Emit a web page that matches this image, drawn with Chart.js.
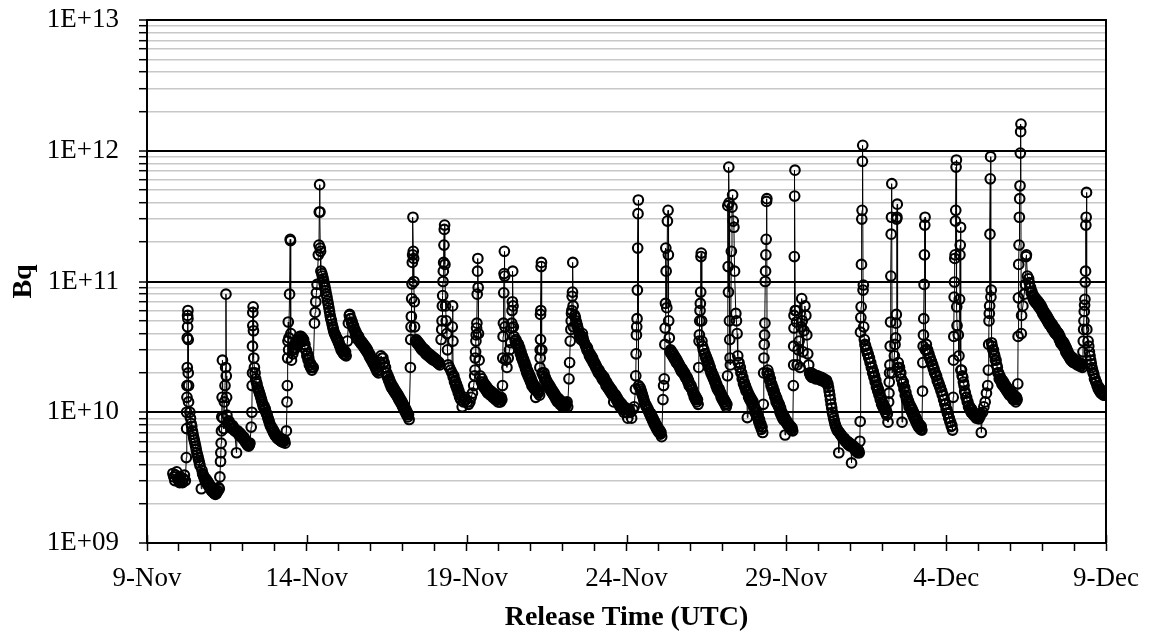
<!DOCTYPE html>
<html>
<head>
<meta charset="utf-8">
<script src="https://cdn.jsdelivr.net/npm/chart.js@4.4.1/dist/chart.umd.min.js"></script>
<style>
  body { margin: 0; background: #fff; }
</style>
</head>
<body>
<canvas id="releaseChart" width="1152" height="639"></canvas>
<script>
// x = days after 9-Nov 00:00 UTC, y = release in Bq
var week1 = [
  [0.81,3.4e9],[0.84,3.2e9],[0.87,3.0e9],[0.90,3.3e9],[0.93,3.5e9],[0.96,3.1e9],[0.99,3.0e9],[1.02,2.9e9],[1.05,3.2e9],[1.08,3.0e9],[1.11,2.9e9],[1.14,3.1e9],[1.17,3.3e9],[1.20,3.0e9],
  [1.23,4.5e9],[1.24,7.5e9],[1.24,1.0e10],[1.25,1.3e10],[1.25,1.6e10],[1.26,2.2e10],[1.26,3.7e10],[1.27,4.5e10],[1.27,5.5e10],[1.28,6.0e10],[1.28,5.2e10],[1.29,3.6e10],[1.29,2.0e10],[1.30,1.6e10],[1.30,1.2e10],
  [1.34,1.0e10],[1.36,9.0e9],[1.38,8.2e9],[1.40,7.8e9],[1.42,7.2e9],[1.44,6.8e9],[1.46,6.4e9],[1.48,6.1e9],[1.50,5.8e9],[1.52,5.5e9],[1.54,5.2e9],[1.56,4.9e9],[1.58,4.7e9],[1.60,4.5e9],[1.62,4.3e9],[1.64,4.1e9],[1.66,3.9e9],[1.70,2.6e9],[1.72,3.6e9],[1.74,3.4e9],[1.76,3.3e9],[1.78,3.2e9],[1.80,3.1e9],[1.82,3.0e9],[1.86,2.9e9],[1.90,2.8e9],[1.94,2.7e9],[1.98,2.6e9],[2.02,2.5e9],[2.06,2.45e9],[2.10,2.4e9],[2.14,2.35e9],[2.18,2.4e9],[2.22,2.5e9],[2.26,2.6e9],
  [2.28,3.2e9],[2.30,4.2e9],[2.31,4.9e9],[2.32,5.8e9],[2.33,7.2e9],[2.34,9.2e9],[2.35,1.3e10],[2.36,2.5e10],[2.38,9.0e9],[2.40,7.5e9],[2.42,1.2e10],[2.44,1.6e10],[2.46,2.2e10],[2.47,8.0e10],[2.48,1.9e10],[2.49,1.3e10],[2.50,9.5e9],
  [2.54,8.5e9],[2.58,8.0e9],[2.62,7.8e9],[2.66,7.5e9],[2.70,7.6e9],[2.74,7.2e9],[2.80,4.9e9],[2.82,7.0e9],[2.86,6.8e9],[2.90,6.6e9],[2.94,6.5e9],[2.98,6.4e9],[3.02,6.2e9],[3.06,6.0e9],[3.10,5.8e9],[3.14,5.6e9],[3.18,5.5e9],[3.22,5.8e9],[3.26,7.7e9],
  [3.28,1.0e10],[3.29,1.6e10],[3.30,2.0e10],[3.30,3.2e10],[3.31,4.6e10],[3.31,5.8e10],[3.32,6.4e10],[3.33,4.2e10],[3.34,2.6e10],
  [3.36,2.2e10],[3.38,2.0e10],[3.40,1.8e10],[3.42,1.7e10],[3.44,1.65e10],[3.46,1.55e10],[3.48,1.5e10],[3.50,1.45e10],[3.52,1.4e10],[3.54,1.35e10],[3.56,1.3e10],[3.58,1.25e10],[3.60,1.2e10],[3.62,1.15e10],[3.64,1.1e10],[3.68,1.05e10],[3.72,1.0e10],[3.74,9.8e9],[3.76,9.5e9],[3.78,9.1e9],[3.80,8.8e9],[3.82,8.5e9],[3.84,8.2e9],[3.86,7.9e9],[3.88,7.7e9],[3.92,7.3e9],[3.96,7.0e9],[4.00,6.7e9],[4.04,6.5e9],[4.08,6.3e9],[4.12,6.2e9],[4.16,6.1e9],[4.20,6.0e9],[4.24,5.9e9],[4.28,6.0e9],[4.32,5.8e9],
  [4.36,7.2e9],[4.38,1.2e10],[4.39,1.6e10],[4.40,2.6e10],[4.41,3.5e10],[4.42,4.9e10],[4.43,3.0e10],[4.44,3.7e10],[4.46,8.0e10],[4.48,2.1e11],[4.49,2.05e11],[4.50,4.0e10],[4.52,2.5e10],
  [4.56,2.8e10],[4.60,3.0e10],[4.64,3.1e10],[4.68,3.3e10],[4.72,3.4e10],[4.76,3.5e10],[4.80,3.6e10],[4.84,3.6e10],[4.88,3.5e10],[4.92,3.3e10],[4.96,3.0e10],[5.00,2.7e10],[5.04,2.5e10],[5.08,2.3e10],[5.12,2.2e10],[5.16,2.1e10],[5.20,2.2e10],
  [5.24,4.8e10],[5.26,5.8e10],[5.28,7.0e10],[5.30,8.2e10],[5.32,9.5e10],[5.36,1.6e11],[5.38,1.9e11],[5.39,3.4e11],[5.40,5.5e11],[5.41,3.4e11],[5.42,1.8e11],[5.43,1.7e11],[5.44,1.2e11],
  [5.47,1.15e11],[5.49,1.1e11],[5.51,1.05e11],[5.53,1.0e11],[5.55,9.5e10],[5.57,9.0e10],[5.59,8.5e10],[5.61,8.0e10],[5.63,7.6e10],[5.65,7.1e10],[5.67,6.7e10],[5.69,6.3e10],[5.71,5.9e10],[5.73,5.5e10],[5.75,5.2e10],[5.77,5.0e10],[5.79,4.7e10],[5.81,4.5e10],[5.83,4.3e10],[5.85,4.1e10],[5.87,4.0e10],[5.89,3.9e10],[5.91,3.8e10],[5.93,3.7e10],[5.95,3.6e10],[5.99,3.4e10],[6.03,3.2e10],[6.07,3.0e10],[6.11,2.9e10],[6.15,2.8e10],[6.19,2.75e10],[6.23,2.7e10],
  [6.27,3.5e10],[6.30,4.8e10],[6.33,5.5e10],[6.36,5.2e10],[6.40,4.8e10],[6.44,4.5e10],[6.48,4.3e10],[6.52,4.0e10],[6.56,3.8e10],[6.60,3.6e10],[6.64,3.5e10],[6.68,3.4e10],[6.72,3.3e10],[6.76,3.2e10],[6.80,3.1e10],[6.84,3.0e10],[6.88,2.9e10],[6.92,2.8e10],[6.96,2.65e10]
];
// upper edge of the thick decay bands, same week
var week1b = [
  [1.84,3.1e9],[1.88,3.0e9],[1.92,2.9e9],[1.96,2.8e9],[2.00,2.7e9],[2.04,2.6e9],[2.08,2.55e9],[2.12,2.5e9],[2.16,2.45e9],[2.20,2.5e9],[2.24,2.65e9],
  [2.56,8.6e9],[2.60,8.2e9],[2.64,7.9e9],[2.68,7.9e9],[2.72,7.6e9],[2.84,7.2e9],[2.88,7.0e9],[2.92,6.9e9],[2.96,6.7e9],[3.00,6.5e9],[3.04,6.4e9],[3.08,6.1e9],[3.12,5.9e9],[3.16,5.8e9],[3.20,5.6e9],
  [3.66,1.12e10],[3.70,1.06e10],[3.90,7.7e9],[3.94,7.4e9],[3.98,7.1e9],[4.02,6.8e9],[4.06,6.6e9],[4.10,6.5e9],[4.14,6.4e9],[4.18,6.3e9],[4.22,6.2e9],[4.26,6.2e9],[4.30,6.1e9],
  [4.58,3.1e10],[4.62,3.3e10],[4.66,3.4e10],[4.70,3.6e10],[4.74,3.7e10],[4.78,3.8e10],[4.82,3.8e10],[4.86,3.7e10],[4.90,3.6e10],[4.94,3.3e10],[4.98,3.0e10],[5.02,2.8e10],[5.06,2.6e10],[5.10,2.4e10],[5.14,2.3e10],[5.18,2.2e10],
  [5.97,3.6e10],[6.01,3.4e10],[6.05,3.2e10],[6.09,3.1e10],[6.13,3.0e10],[6.17,2.95e10],[6.21,2.9e10],
  [6.34,5.6e10],[6.38,5.2e10],[6.42,4.9e10],[6.46,4.6e10],[6.50,4.3e10],[6.54,4.1e10],[6.58,3.9e10],[6.62,3.8e10],[6.66,3.6e10],[6.70,3.5e10],[6.74,3.4e10],[6.78,3.3e10],[6.82,3.2e10],[6.86,3.1e10],[6.90,3.0e10],[6.94,2.85e10],[6.98,2.75e10]
];

var week2 = [
  [7.00,2.55e10],[7.04,2.45e10],[7.08,2.35e10],[7.12,2.25e10],[7.16,2.15e10],[7.20,2.05e10],
  [7.24,2.0e10],[7.28,2.4e10],[7.32,2.7e10],[7.36,2.6e10],[7.40,2.4e10],[7.44,2.2e10],[7.48,2.0e10],[7.52,1.85e10],[7.56,1.75e10],[7.60,1.65e10],[7.64,1.55e10],[7.68,1.5e10],[7.72,1.45e10],[7.76,1.4e10],[7.80,1.35e10],[7.84,1.3e10],[7.88,1.25e10],[7.92,1.2e10],[7.96,1.15e10],[8.00,1.1e10],[8.04,1.05e10],[8.08,1.0e10],[8.12,9.6e9],[8.16,9.2e9],[8.20,8.8e9],
  [8.24,2.2e10],[8.25,3.6e10],[8.26,4.5e10],[8.27,5.4e10],[8.28,7.4e10],[8.29,9.6e10],[8.30,1.4e11],[8.31,1.6e11],[8.32,3.1e11],[8.33,1.7e11],[8.34,1.5e11],[8.35,1.0e11],[8.36,7.0e10],[8.37,4.5e10],
  [8.40,3.5e10],[8.44,3.4e10],[8.48,3.3e10],[8.52,3.2e10],[8.56,3.1e10],[8.60,3.0e10],[8.64,2.95e10],[8.68,2.9e10],[8.72,2.8e10],[8.76,2.75e10],[8.80,2.7e10],[8.84,2.65e10],[8.88,2.6e10],[8.92,2.55e10],[8.96,2.5e10],[9.00,2.5e10],[9.04,2.45e10],[9.08,2.4e10],[9.12,2.35e10],[9.16,2.3e10],
  [9.20,3.6e10],[9.22,4.3e10],[9.23,5.0e10],[9.24,6.5e10],[9.25,7.8e10],[9.26,1.0e11],[9.27,1.2e11],[9.28,1.4e11],[9.29,1.9e11],[9.30,2.5e11],[9.31,2.7e11],[9.32,1.35e11],[9.34,6.5e10],[9.36,5.0e10],[9.38,4.0e10],[9.40,3.0e10],[9.42,2.3e10],
  [9.46,2.2e10],[9.50,2.1e10],[9.54,2.0e10],[9.55,4.5e10],[9.56,6.5e10],[9.57,3.5e10],[9.58,1.85e10],[9.62,1.7e10],[9.66,1.6e10],[9.70,1.5e10],[9.74,1.4e10],[9.78,1.3e10],[9.82,1.25e10],[9.86,1.1e10],[9.90,1.2e10],[9.94,1.3e10],[9.98,1.25e10],
  [10.02,1.2e10],[10.06,1.15e10],[10.10,1.2e10],[10.14,1.3e10],[10.18,1.4e10],[10.22,1.6e10],[10.25,1.9e10],[10.26,2.1e10],[10.27,2.6e10],[10.28,2.9e10],[10.29,3.5e10],[10.30,3.9e10],[10.31,4.4e10],[10.32,4.8e10],[10.33,8.0e10],[10.34,1.2e11],[10.35,1.5e11],[10.36,9.0e10],[10.37,4.0e10],[10.39,2.5e10],[10.42,1.9e10],
  [10.46,1.7e10],[10.50,1.6e10],[10.54,1.55e10],[10.58,1.5e10],[10.62,1.45e10],[10.66,1.4e10],[10.70,1.4e10],[10.74,1.35e10],[10.78,1.35e10],[10.82,1.3e10],[10.86,1.3e10],[10.90,1.25e10],[10.94,1.25e10],[10.98,1.2e10],[11.02,1.2e10],[11.06,1.2e10],[11.10,1.25e10],
  [11.12,1.6e10],[11.13,2.6e10],[11.14,3.8e10],[11.15,4.8e10],[11.16,8.2e10],[11.17,1.15e11],[11.18,1.7e11],[11.19,1.1e11],[11.20,4.5e10],[11.22,2.5e10],[11.26,2.2e10],
  [11.30,2.6e10],[11.34,3.0e10],[11.38,3.4e10],[11.40,4.4e10],[11.41,4.8e10],[11.42,6.0e10],[11.43,7.0e10],[11.44,1.2e11],[11.45,6.5e10],[11.46,4.5e10],[11.48,3.8e10],
  [11.52,3.5e10],[11.56,3.3e10],[11.60,3.2e10],[11.64,3.0e10],[11.68,2.8e10],[11.72,2.6e10],[11.76,2.45e10],[11.80,2.3e10],[11.84,2.15e10],[11.88,2.0e10],[11.92,1.9e10],[11.96,1.8e10],[12.00,1.7e10],[12.04,1.6e10],[12.08,1.55e10],[12.12,1.5e10],[12.16,1.3e10],[12.20,1.45e10],[12.24,1.4e10],[12.28,1.35e10],
  [12.29,2.2e10],[12.30,2.6e10],[12.30,3.0e10],[12.31,3.6e10],[12.31,5.6e10],[12.32,6.0e10],[12.33,1.3e11],[12.34,1.4e11],[12.35,3.0e10],[12.36,2.0e10],
  [12.40,1.9e10],[12.44,1.8e10],[12.48,1.7e10],[12.52,1.6e10],[12.56,1.55e10],[12.60,1.5e10],[12.64,1.45e10],[12.68,1.4e10],[12.72,1.35e10],[12.76,1.3e10],[12.80,1.25e10],[12.84,1.2e10],[12.88,1.2e10],[12.92,1.15e10],[12.96,1.15e10],[13.00,1.1e10],[13.04,1.1e10],[13.08,1.1e10],[13.12,1.15e10],[13.16,1.1e10],
  [13.20,1.8e10],[13.22,2.4e10],[13.24,3.5e10],[13.26,4.3e10],[13.27,5.0e10],[13.28,5.7e10],[13.29,6.0e10],[13.30,7.7e10],[13.31,8.3e10],[13.32,1.4e11],[13.33,6.5e10],[13.34,4.5e10],
  [13.38,5.5e10],[13.42,5.0e10],[13.46,4.6e10],[13.50,4.2e10],[13.54,3.8e10],[13.58,3.6e10],[13.62,4.0e10],[13.66,3.5e10],
  [13.72,3.2e10],[13.76,3.0e10],[13.80,2.9e10],[13.84,2.7e10],[13.88,2.6e10],[13.92,2.5e10],[13.96,2.4e10]
];
var week2b = [
  [7.02,2.6e10],[7.06,2.5e10],[7.10,2.4e10],[7.14,2.3e10],[7.18,2.2e10],[7.22,2.1e10],
  [7.38,2.6e10],[7.42,2.4e10],[7.46,2.2e10],[7.50,2.0e10],[7.54,1.9e10],[7.58,1.8e10],[7.62,1.7e10],[7.66,1.62e10],[7.70,1.56e10],[7.74,1.5e10],[7.78,1.45e10],[7.82,1.4e10],[7.86,1.35e10],[7.90,1.3e10],[7.94,1.25e10],[7.98,1.2e10],[8.02,1.15e10],[8.06,1.1e10],[8.10,1.05e10],[8.14,1.0e10],[8.18,9.6e9],
  [8.42,3.6e10],[8.46,3.5e10],[8.50,3.4e10],[8.54,3.3e10],[8.58,3.2e10],[8.62,3.1e10],[8.66,3.05e10],[8.70,3.0e10],[8.74,2.9e10],[8.78,2.85e10],[8.82,2.8e10],[8.86,2.75e10],[8.90,2.7e10],[8.94,2.65e10],[8.98,2.6e10],[9.02,2.55e10],[9.06,2.5e10],[9.10,2.45e10],[9.14,2.4e10],
  [9.60,1.9e10],[9.64,1.75e10],[9.68,1.65e10],[9.72,1.55e10],[9.76,1.45e10],[9.80,1.35e10],
  [10.48,1.8e10],[10.52,1.7e10],[10.56,1.65e10],[10.60,1.6e10],[10.64,1.55e10],[10.68,1.5e10],[10.72,1.45e10],[10.76,1.45e10],[10.80,1.4e10],[10.84,1.4e10],[10.88,1.35e10],[10.92,1.35e10],[10.96,1.3e10],[11.00,1.3e10],[11.04,1.3e10],[11.08,1.3e10],
  [11.54,3.6e10],[11.58,3.4e10],[11.62,3.3e10],[11.66,3.1e10],[11.70,2.9e10],[11.74,2.7e10],[11.78,2.55e10],[11.82,2.4e10],[11.86,2.25e10],[11.90,2.1e10],[11.94,2.0e10],[11.98,1.9e10],[12.02,1.8e10],[12.06,1.7e10],[12.10,1.62e10],[12.14,1.58e10],[12.18,1.52e10],[12.22,1.48e10],[12.26,1.45e10],
  [12.42,2.0e10],[12.46,1.85e10],[12.50,1.75e10],[12.54,1.68e10],[12.58,1.62e10],[12.62,1.56e10],[12.66,1.5e10],[12.70,1.45e10],[12.74,1.4e10],[12.78,1.35e10],[12.82,1.3e10],[12.86,1.28e10],[12.90,1.25e10],[12.94,1.22e10],[12.98,1.2e10],[13.02,1.18e10],[13.06,1.17e10],[13.10,1.17e10],[13.14,1.2e10],
  [13.40,5.3e10],[13.44,4.8e10],[13.48,4.4e10],[13.52,4.0e10],[13.56,3.9e10],[13.60,3.8e10],[13.64,3.7e10],[13.68,3.4e10],[13.74,3.2e10],[13.78,3.1e10],[13.82,2.9e10],[13.86,2.8e10],[13.90,2.7e10],[13.94,2.6e10],[13.98,2.45e10]
];

var week3 = [
  [14.00,2.3e10],[14.04,2.2e10],[14.08,2.1e10],[14.12,2.0e10],[14.16,1.95e10],[14.20,1.9e10],[14.24,1.8e10],[14.28,1.75e10],[14.32,1.7e10],[14.36,1.6e10],[14.40,1.55e10],[14.44,1.5e10],[14.48,1.45e10],[14.52,1.4e10],[14.56,1.35e10],[14.60,1.2e10],[14.64,1.3e10],[14.68,1.25e10],[14.72,1.2e10],[14.76,1.15e10],[14.80,1.1e10],[14.84,1.1e10],[14.88,1.05e10],[14.92,1.0e10],[14.96,1.05e10],[15.00,1.0e10],[15.04,9.0e9],
  [15.08,1.05e10],[15.12,1.0e10],[15.16,9.0e9],[15.20,1.05e10],[15.24,1.1e10],
  [15.28,1.5e10],[15.29,1.9e10],[15.30,2.8e10],[15.31,3.9e10],[15.32,4.5e10],[15.33,5.2e10],[15.34,8.6e10],[15.35,1.8e11],[15.36,3.3e11],[15.37,4.2e11],[15.38,1.6e10],
  [15.42,1.55e10],[15.44,1.5e10],[15.46,1.45e10],[15.48,1.4e10],[15.50,1.35e10],[15.52,1.3e10],[15.54,1.25e10],[15.56,1.2e10],[15.58,1.15e10],[15.62,1.1e10],[15.66,1.05e10],[15.70,1.0e10],[15.74,9.5e9],[15.78,9.0e9],[15.82,8.6e9],[15.86,8.2e9],[15.90,7.8e9],[15.94,7.5e9],[15.98,7.2e9],[16.02,7.0e9],[16.06,6.8e9],[16.10,6.5e9],
  [16.14,1.25e10],[16.16,1.6e10],[16.18,1.8e10],[16.20,3.3e10],[16.21,4.4e10],[16.22,6.8e10],[16.23,1.8e11],[16.24,1.2e11],[16.26,6.3e10],[16.28,2.9e11],[16.30,3.5e11],[16.31,1.6e11],[16.32,5.0e10],[16.34,3.7e10],[16.36,2.9e10],
  [16.40,2.8e10],[16.44,2.7e10],[16.48,2.6e10],[16.52,2.5e10],[16.56,2.4e10],[16.60,2.35e10],[16.64,2.25e10],[16.68,2.15e10],[16.72,2.05e10],[16.76,2.0e10],[16.80,1.95e10],[16.84,1.85e10],[16.88,1.8e10],[16.92,1.7e10],[16.96,1.6e10],[17.00,1.55e10],[17.04,1.5e10],[17.08,1.4e10],[17.12,1.3e10],[17.16,1.25e10],[17.20,1.2e10],[17.24,1.15e10],
  [17.26,2.2e10],[17.27,3.5e10],[17.28,3.9e10],[17.29,5.0e10],[17.30,6.0e10],[17.31,6.8e10],[17.32,8.3e10],[17.33,1.55e11],[17.34,1.65e11],[17.35,5.0e10],[17.36,3.5e10],
  [17.40,3.0e10],[17.44,2.8e10],[17.48,2.6e10],[17.52,2.45e10],[17.56,2.3e10],[17.60,2.15e10],[17.64,2.0e10],[17.68,1.9e10],[17.72,1.8e10],[17.76,1.7e10],[17.80,1.6e10],[17.84,1.5e10],[17.88,1.45e10],[17.92,1.4e10],[17.96,1.3e10],[18.00,1.25e10],[18.04,1.2e10],[18.08,1.15e10],[18.12,1.1e10],
  [18.16,1.9e10],[18.17,3.8e11],[18.18,1.3e11],[18.19,8.3e10],[18.20,7.5e11],[18.21,4.0e11],[18.22,5.0e10],[18.23,3.6e10],[18.24,2.6e10],[18.25,2.3e10],[18.28,1.7e11],[18.30,3.7e11],[18.32,4.6e11],[18.34,2.9e11],[18.36,2.6e11],[18.38,1.2e11],[18.42,5.7e10],[18.44,5.0e10],[18.46,4.0e10],
  [18.50,2.4e10],[18.54,2.2e10],[18.58,2.0e10],[18.62,1.8e10],[18.66,1.65e10],[18.70,1.55e10],[18.74,1.45e10],[18.78,9.1e9],[18.82,1.3e10],[18.86,1.25e10],[18.90,1.2e10],[18.94,1.15e10],[18.98,1.1e10],[19.02,1.0e10],[19.06,9.5e9],[19.10,9.0e9],[19.14,8.4e9],[19.18,7.9e9],[19.22,7.4e9],[19.26,7.0e9],
  [19.28,1.15e10],[19.29,2.0e10],[19.30,2.6e10],[19.31,3.3e10],[19.32,3.9e10],[19.33,4.8e10],[19.34,1.0e11],[19.35,1.2e11],[19.36,1.6e11],[19.37,2.1e11],[19.38,4.1e11],[19.39,4.3e11],[19.40,2.0e10],
  [19.44,1.9e10],[19.48,1.75e10],[19.52,1.6e10],[19.56,1.5e10],[19.60,1.4e10],[19.64,1.3e10],[19.68,1.2e10],[19.72,1.15e10],[19.76,1.1e10],[19.80,1.0e10],[19.84,9.5e9],[19.88,9.0e9],[19.92,8.7e9],[19.96,6.7e9],[20.00,8.3e9],[20.04,8.0e9],[20.08,7.8e9],[20.12,7.5e9],[20.16,7.3e9],[20.20,7.2e9],
  [20.22,1.6e10],[20.23,2.3e10],[20.23,3.2e10],[20.24,4.4e10],[20.24,5.5e10],[20.25,1.55e11],[20.26,4.5e11],[20.27,7.1e11],[20.28,6.0e10],
  [20.30,6.0e10],[20.32,4.9e10],[20.34,2.3e10],[20.37,3.0e10],[20.40,3.5e10],[20.43,2.2e10],[20.46,4.5e10],[20.48,7.4e10],[20.50,5.0e10],[20.52,2.9e10],[20.55,4.2e10],[20.58,6.5e10],[20.61,5.5e10],[20.64,3.9e10],[20.67,2.8e10],[20.70,2.3e10],[20.73,2.0e10],
  [20.76,1.9e10],[20.80,1.85e10],[20.84,1.9e10],[20.88,1.85e10],[20.92,1.8e10],[20.96,1.85e10]
];
var week3b = [
  [14.02,2.35e10],[14.06,2.25e10],[14.10,2.15e10],[14.14,2.1e10],[14.18,2.0e10],[14.22,1.95e10],[14.26,1.9e10],[14.30,1.85e10],[14.34,1.75e10],[14.38,1.7e10],[14.42,1.62e10],[14.46,1.58e10],[14.50,1.52e10],[14.54,1.48e10],[14.58,1.42e10],[14.62,1.38e10],[14.66,1.35e10],[14.70,1.3e10],[14.74,1.25e10],[14.78,1.2e10],[14.82,1.18e10],[14.86,1.15e10],[14.90,1.1e10],[14.94,1.08e10],[14.98,1.08e10],[15.02,1.05e10],
  [15.60,1.15e10],[15.64,1.1e10],[15.68,1.05e10],[15.72,1.0e10],[15.76,9.8e9],[15.80,9.3e9],[15.84,8.9e9],[15.88,8.5e9],[15.92,8.1e9],[15.96,7.8e9],[16.00,7.5e9],[16.04,7.3e9],[16.08,7.0e9],
  [16.38,3.0e10],[16.42,2.9e10],[16.46,2.8e10],[16.50,2.7e10],[16.54,2.6e10],[16.58,2.5e10],[16.62,2.4e10],[16.66,2.3e10],[16.70,2.2e10],[16.74,2.15e10],[16.78,2.05e10],[16.82,2.0e10],[16.86,1.9e10],[16.90,1.85e10],[16.94,1.75e10],[16.98,1.65e10],[17.02,1.6e10],[17.06,1.5e10],[17.10,1.4e10],[17.14,1.35e10],[17.18,1.3e10],[17.22,1.25e10],
  [17.38,3.2e10],[17.42,3.0e10],[17.46,2.8e10],[17.50,2.65e10],[17.54,2.5e10],[17.58,2.35e10],[17.62,2.2e10],[17.66,2.05e10],[17.70,1.95e10],[17.74,1.85e10],[17.78,1.75e10],[17.82,1.65e10],[17.86,1.55e10],[17.90,1.5e10],[17.94,1.42e10],[17.98,1.35e10],[18.02,1.3e10],[18.06,1.25e10],[18.10,1.2e10],[18.14,1.15e10],
  [18.48,2.7e10],[18.52,2.4e10],[18.56,2.2e10],[18.60,2.0e10],[18.64,1.85e10],[18.68,1.7e10],[18.72,1.6e10],[18.76,1.5e10],[18.80,1.42e10],[18.84,1.35e10],[18.88,1.3e10],[18.92,1.25e10],[18.96,1.2e10],[19.00,1.1e10],[19.04,1.05e10],[19.08,1.0e10],[19.12,9.4e9],[19.16,8.8e9],[19.20,8.2e9],[19.24,7.7e9],
  [19.42,2.1e10],[19.46,1.95e10],[19.50,1.8e10],[19.54,1.65e10],[19.58,1.55e10],[19.62,1.45e10],[19.66,1.35e10],[19.70,1.28e10],[19.74,1.2e10],[19.78,1.15e10],[19.82,1.08e10],[19.86,1.0e10],[19.90,9.6e9],[19.94,9.2e9],[19.98,8.8e9],[20.02,8.5e9],[20.06,8.2e9],[20.10,8.0e9],[20.14,7.8e9],[20.18,7.6e9],
  [20.74,1.95e10],[20.78,2.0e10],[20.82,1.95e10],[20.86,1.95e10],[20.90,1.9e10],[20.94,1.9e10],[20.98,1.9e10]
];

var week4 = [
  [21.00,1.8e10],[21.04,1.8e10],[21.08,1.75e10],[21.12,1.8e10],[21.16,1.75e10],[21.20,1.7e10],[21.24,1.7e10],[21.28,1.65e10],
  [21.32,1.55e10],[21.34,1.45e10],[21.36,1.35e10],[21.38,1.25e10],[21.40,1.15e10],[21.42,1.08e10],[21.44,1.0e10],[21.46,9.5e9],[21.48,9.0e9],[21.50,8.6e9],[21.52,8.2e9],[21.54,7.9e9],[21.56,7.6e9],[21.60,7.2e9],[21.64,4.9e9],[21.68,6.8e9],[21.72,6.6e9],[21.76,6.4e9],[21.80,6.2e9],[21.84,6.0e9],[21.88,5.9e9],[21.92,5.7e9],[21.96,5.6e9],[22.00,5.5e9],[22.04,4.1e9],[22.08,5.4e9],[22.12,5.3e9],[22.16,5.1e9],[22.20,5.0e9],[22.24,4.9e9],[22.28,4.9e9],
  [22.30,6.0e9],[22.31,8.5e9],[22.32,4.1e10],[22.33,5.3e10],[22.34,6.4e10],[22.35,1.35e11],[22.36,3.0e11],[22.37,3.5e11],[22.38,8.3e11],[22.39,1.1e12],[22.40,8.6e10],[22.41,9.4e10],[22.42,4.5e10],
  [22.46,3.3e10],[22.50,3.0e10],[22.54,2.8e10],[22.58,2.6e10],[22.62,2.4e10],[22.66,2.2e10],[22.70,2.0e10],[22.74,1.85e10],[22.78,1.7e10],[22.82,1.55e10],[22.86,1.45e10],[22.90,1.35e10],[22.94,1.25e10],[22.98,1.15e10],[23.02,1.1e10],[23.06,1.05e10],[23.10,1.0e10],[23.14,9.5e9],[23.18,8.4e9],
  [23.20,1.2e10],[23.21,1.4e10],[23.22,1.7e10],[23.23,2.0e10],[23.24,2.3e10],[23.25,3.2e10],[23.26,4.9e10],[23.27,1.1e11],[23.28,2.3e11],[23.29,3.1e11],[23.30,5.6e11],[23.31,2.0e10],
  [23.38,2.7e10],[23.40,3.3e10],[23.42,3.7e10],[23.43,4.8e10],[23.44,5.6e10],[23.45,3.0e11],[23.46,3.1e11],[23.47,3.9e11],[23.48,2.2e10],
  [23.52,2.2e10],[23.56,2.0e10],[23.60,1.8e10],[23.62,8.4e9],[23.64,1.65e10],[23.68,1.5e10],[23.72,1.35e10],[23.76,1.25e10],[23.80,1.2e10],[23.84,1.1e10],[23.88,1.05e10],[23.92,1.0e10],[23.96,9.5e9],[24.00,9.0e9],[24.04,8.6e9],[24.08,8.2e9],[24.12,7.8e9],[24.16,7.6e9],[24.20,7.4e9],[24.24,7.3e9],
  [24.26,1.45e10],[24.27,2.4e10],[24.28,3.2e10],[24.29,3.9e10],[24.30,5.2e10],[24.31,9.5e10],[24.32,1.6e11],[24.33,2.7e11],[24.34,3.1e11],[24.35,3.0e10],
  [24.40,3.0e10],[24.44,2.8e10],[24.48,2.6e10],[24.52,2.45e10],[24.56,2.3e10],[24.60,2.15e10],[24.64,2.0e10],[24.68,1.9e10],[24.72,1.75e10],[24.76,1.65e10],[24.80,1.55e10],[24.84,1.45e10],[24.88,1.35e10],[24.92,1.25e10],[24.96,1.15e10],[25.00,1.05e10],[25.04,9.8e9],[25.08,9.0e9],[25.12,8.4e9],[25.16,7.8e9],[25.20,7.3e9],
  [25.22,1.3e10],[25.23,2.5e10],[25.24,3.8e10],[25.25,7.6e10],[25.26,9.9e10],[25.27,1.5e11],[25.28,1.6e11],[25.29,2.9e11],[25.30,3.5e11],[25.31,7.5e11],[25.32,8.5e11],[25.33,6.4e10],[25.34,4.6e10],
  [25.38,3.9e10],[25.40,2.7e10],[25.42,7.3e10],[25.43,1.6e11],[25.44,1.9e11],[25.45,2.6e11],[25.46,2.1e10],
  [25.50,1.9e10],[25.54,1.7e10],[25.58,1.45e10],[25.62,1.3e10],[25.66,1.2e10],[25.70,1.1e10],[25.74,1.05e10],[25.78,1.0e10],[25.82,9.8e9],[25.86,9.5e9],[25.90,9.3e9],[25.94,9.0e9],[25.98,9.2e9],[26.02,8.9e9],[26.06,9.3e9],[26.10,7.0e9],
  [26.14,1.0e10],[26.18,1.1e10],[26.22,1.2e10],[26.26,1.4e10],[26.30,1.6e10],[26.32,2.1e10],[26.33,3.3e10],[26.34,5.0e10],[26.35,5.7e10],[26.36,6.5e10],[26.37,2.3e11],[26.38,6.1e11],[26.39,9.0e11],[26.40,7.6e10],[26.41,8.6e10],[26.42,3.4e10],
  [26.46,3.0e10],[26.50,2.8e10],[26.54,2.5e10],[26.58,2.3e10],[26.62,2.0e10],[26.66,1.8e10],[26.70,1.75e10],[26.74,1.65e10],[26.78,1.6e10],[26.82,1.55e10],[26.86,1.5e10],[26.90,1.45e10],[26.94,1.4e10],[26.98,1.35e10],[27.02,1.35e10],[27.06,1.3e10],[27.10,1.25e10],[27.14,1.25e10],[27.18,1.2e10],[27.22,1.25e10],
  [27.24,1.65e10],[27.25,3.8e10],[27.26,7.5e10],[27.27,1.35e11],[27.28,1.9e11],[27.29,3.1e11],[27.30,4.3e11],[27.31,5.4e11],[27.32,9.6e11],[27.33,1.4e12],[27.34,1.6e12],[27.35,4.0e10],
  [27.36,5.5e10],[27.40,6.5e10],[27.44,8.0e10],[27.48,9.5e10],[27.50,1.55e11],[27.51,1.6e11],[27.54,1.1e11],[27.58,1.05e11],
  [27.62,9.0e10],[27.66,8.2e10],[27.70,7.6e10],[27.74,7.2e10],[27.78,7.0e10],[27.82,6.8e10],[27.86,6.6e10],[27.90,6.4e10],[27.94,6.2e10],[27.98,6.0e10],[28.02,5.7e10],[28.06,5.5e10],[28.10,5.3e10],[28.14,5.1e10],[28.18,4.9e10],[28.22,4.7e10],[28.26,4.6e10],[28.30,4.4e10],[28.34,4.3e10],[28.38,4.1e10],[28.42,4.0e10],[28.46,3.9e10],[28.50,3.8e10],[28.54,3.6e10],[28.58,3.4e10],[28.62,3.3e10],[28.66,3.2e10],[28.70,3.1e10],[28.74,2.9e10],[28.78,2.8e10],[28.82,2.7e10],[28.86,2.6e10],[28.90,2.5e10],[28.94,2.45e10],[28.98,2.4e10],[29.02,2.4e10],[29.06,2.35e10],[29.10,2.3e10],[29.14,2.3e10],[29.18,2.25e10],[29.22,2.25e10],[29.26,2.2e10],
  [29.28,2.9e10],[29.29,3.5e10],[29.30,4.3e10],[29.31,5.0e10],[29.32,5.9e10],[29.33,6.6e10],[29.34,7.3e10],[29.35,9.9e10],[29.36,1.2e11],[29.37,2.7e11],[29.38,3.1e11],[29.39,4.8e11],[29.40,4.3e10],
  [29.44,3.5e10],[29.46,3.2e10],[29.48,2.9e10],[29.50,2.7e10],[29.52,2.5e10],[29.54,2.35e10],[29.56,2.2e10],[29.58,2.1e10],[29.60,2.0e10],[29.64,1.8e10],[29.68,1.7e10],[29.72,1.6e10],[29.76,1.5e10],[29.80,1.45e10],[29.84,1.4e10],[29.88,1.38e10],[29.92,1.35e10],[29.96,1.35e10]
];
var week4b = [
  [21.02,1.85e10],[21.06,1.85e10],[21.10,1.85e10],[21.14,1.8e10],[21.18,1.8e10],[21.22,1.75e10],[21.26,1.75e10],[21.30,1.65e10],
  [21.58,7.5e9],[21.62,7.2e9],[21.66,7.0e9],[21.70,6.8e9],[21.74,6.6e9],[21.78,6.4e9],[21.82,6.3e9],[21.86,6.1e9],[21.90,6.0e9],[21.94,5.9e9],[21.98,5.8e9],[22.02,5.7e9],[22.06,5.6e9],[22.10,5.5e9],[22.14,5.4e9],[22.18,5.3e9],[22.22,5.2e9],[22.26,5.1e9],
  [22.44,3.6e10],[22.48,3.2e10],[22.52,3.0e10],[22.56,2.8e10],[22.60,2.6e10],[22.64,2.4e10],[22.68,2.2e10],[22.72,2.05e10],[22.76,1.9e10],[22.80,1.75e10],[22.84,1.6e10],[22.88,1.5e10],[22.92,1.4e10],[22.96,1.3e10],[23.00,1.2e10],[23.04,1.15e10],[23.08,1.1e10],[23.12,1.05e10],[23.16,9.8e9],
  [23.50,2.4e10],[23.54,2.2e10],[23.58,2.0e10],[23.66,1.7e10],[23.70,1.55e10],[23.74,1.42e10],[23.78,1.3e10],[23.82,1.22e10],[23.86,1.15e10],[23.90,1.1e10],[23.94,1.05e10],[23.98,1.0e10],[24.02,9.4e9],[24.06,9.0e9],[24.10,8.6e9],[24.14,8.2e9],[24.18,8.0e9],[24.22,7.8e9],
  [24.38,3.3e10],[24.42,3.0e10],[24.46,2.8e10],[24.50,2.6e10],[24.54,2.45e10],[24.58,2.3e10],[24.62,2.15e10],[24.66,2.0e10],[24.70,1.9e10],[24.74,1.75e10],[24.78,1.65e10],[24.82,1.55e10],[24.86,1.45e10],[24.90,1.35e10],[24.94,1.25e10],[24.98,1.15e10],[25.02,1.05e10],[25.06,9.8e9],[25.10,9.0e9],[25.14,8.4e9],[25.18,7.9e9],
  [25.48,2.1e10],[25.52,1.85e10],[25.56,1.6e10],[25.60,1.4e10],[25.64,1.3e10],[25.68,1.2e10],[25.72,1.12e10],[25.76,1.08e10],[25.80,1.05e10],[25.84,1.0e10],[25.88,9.8e9],[25.92,9.6e9],[25.96,9.5e9],[26.00,9.4e9],[26.04,9.6e9],[26.08,9.8e9],
  [26.44,3.2e10],[26.48,3.0e10],[26.52,2.7e10],[26.56,2.5e10],[26.60,2.2e10],[26.64,2.0e10],[26.68,1.9e10],[26.72,1.8e10],[26.76,1.75e10],[26.80,1.7e10],[26.84,1.62e10],[26.88,1.58e10],[26.92,1.52e10],[26.96,1.48e10],[27.00,1.45e10],[27.04,1.42e10],[27.08,1.38e10],[27.12,1.35e10],[27.16,1.32e10],[27.20,1.3e10],
  [27.60,9.8e10],[27.64,9.0e10],[27.68,8.4e10],[27.72,7.9e10],[27.76,7.6e10],[27.80,7.4e10],[27.84,7.2e10],[27.88,7.0e10],[27.92,6.8e10],[27.96,6.6e10],[28.00,6.3e10],[28.04,6.0e10],[28.08,5.8e10],[28.12,5.6e10],[28.16,5.4e10],[28.20,5.2e10],[28.24,5.0e10],[28.28,4.8e10],[28.32,4.7e10],[28.36,4.5e10],[28.40,4.4e10],[28.44,4.2e10],[28.48,4.1e10],[28.52,4.0e10],[28.56,3.8e10],[28.60,3.6e10],[28.64,3.5e10],[28.68,3.4e10],[28.72,3.25e10],[28.76,3.1e10],[28.80,2.95e10],[28.84,2.8e10],[28.88,2.7e10],[28.92,2.65e10],[28.96,2.6e10],[29.00,2.55e10],[29.04,2.5e10],[29.08,2.45e10],[29.12,2.4e10],[29.16,2.4e10],[29.20,2.35e10],[29.24,2.35e10],
  [29.62,1.95e10],[29.66,1.8e10],[29.70,1.7e10],[29.74,1.6e10],[29.78,1.55e10],[29.82,1.5e10],[29.86,1.45e10],[29.90,1.42e10],[29.94,1.4e10],[29.98,1.38e10]
];

var dateLabels = ["9-Nov", "14-Nov", "19-Nov", "24-Nov", "29-Nov", "4-Dec", "9-Dec"];
var yDecades = [1e9, 1e10, 1e11, 1e12, 1e13];
var yTickLabels = ["1E+09", "1E+10", "1E+11", "1E+12", "1E+13"];

// merge the weeks in time order (sort is stable, so spike points keep their order)
var releaseData = week1.concat(week1b, week2, week2b, week3, week3b, week4, week4b)
    .sort(function (a, b) { return a[0] - b[0]; })
    .map(function (p) { return { x: p[0], y: p[1] }; });

// every 1..9 x 10^n line of the log grid
var yGridValues = [];
yDecades.forEach(function (d, i) {
    for (var k = 1; k <= 9; k++) {
        if (i === yDecades.length - 1 && k > 1) break;
        yGridValues.push(d * k);
    }
});

var frame = {
    id: "frame",
    afterDraw: function (chart) {
        var ctx = chart.ctx, a = chart.chartArea, xs = chart.scales.x;
        ctx.save();
        ctx.strokeStyle = "#000";
        ctx.lineWidth = 2;
        ctx.strokeRect(a.left, a.top, a.right - a.left, a.bottom - a.top);
        // major date ticks poke up into the plot
        ctx.lineWidth = 1.5;
        for (var d = 0; d <= 30; d += 5) {
            var px = Math.round(xs.getPixelForValue(d)) + 0.5;
            ctx.beginPath();
            ctx.moveTo(px, a.bottom);
            ctx.lineTo(px, a.bottom - 8);
            ctx.stroke();
        }
        ctx.restore();
    }
};

var serif = "'Liberation Serif', 'Times New Roman', serif";

new Chart("releaseChart", {
    type: "line",
    data: {
        datasets: [{
            data: releaseData,
            borderColor: "#000",
            borderWidth: 1,
            pointRadius: 4.8,
            pointBorderWidth: 2.1,
            pointBorderColor: "#000",
            pointBackgroundColor: "rgba(0,0,0,0)",
            tension: 0
        }]
    },
    options: {
        responsive: false,
        animation: false,
        layout: { padding: { left: 7, right: 46, top: 20, bottom: 0 } },
        plugins: { legend: { display: false }, tooltip: { enabled: false } },
        scales: {
            x: {
                type: "linear",
                min: 0,
                max: 30,
                afterFit: function (s) { s.height = 96; },
                grid: { drawOnChartArea: false, drawTicks: true, tickLength: 8, tickColor: "#000", tickWidth: 1.5 },
                border: { color: "#000", width: 2 },
                ticks: {
                    stepSize: 1,
                    autoSkip: false,
                    maxRotation: 0,
                    padding: 12,
                    color: "#000",
                    font: { family: serif, size: 27 },
                    callback: function (v) { return v % 5 === 0 ? dateLabels[v / 5] : ""; }
                },
                title: {
                    display: true,
                    text: "Release Time (UTC)",
                    color: "#000",
                    padding: { top: 0, bottom: 4 },
                    font: { family: serif, size: 28, weight: "bold" }
                }
            },
            y: {
                type: "logarithmic",
                min: 1e9,
                max: 1e13,
                afterFit: function (s) {
                    s.width = 140;
                    s.paddingTop = 0;
                    s.paddingBottom = 0;
                },
                afterBuildTicks: function (s) {
                    s.ticks = yGridValues.map(function (v) { return { value: v }; });
                },
                grid: {
                    color: function (c) { return yDecades.indexOf(c.tick.value) >= 0 ? "#000" : "#c8c8c8"; },
                    lineWidth: function (c) { return yDecades.indexOf(c.tick.value) >= 0 ? 2 : 1.4; },
                    tickLength: 8,
                    tickColor: "#000",
                    tickWidth: 1.5
                },
                border: { color: "#000", width: 2 },
                ticks: {
                    autoSkip: false,
                    padding: 20,
                    color: "#000",
                    font: { family: serif, size: 27 },
                    callback: function (v) {
                        var i = yDecades.indexOf(v);
                        return i >= 0 ? yTickLabels[i] : "";
                    }
                },
                title: {
                    display: true,
                    text: "Bq",
                    color: "#000",
                    padding: { top: 0, bottom: 0 },
                    font: { family: serif, size: 28, weight: "bold" }
                }
            }
        }
    },
    plugins: [frame]
});
</script>
</body>
</html>
